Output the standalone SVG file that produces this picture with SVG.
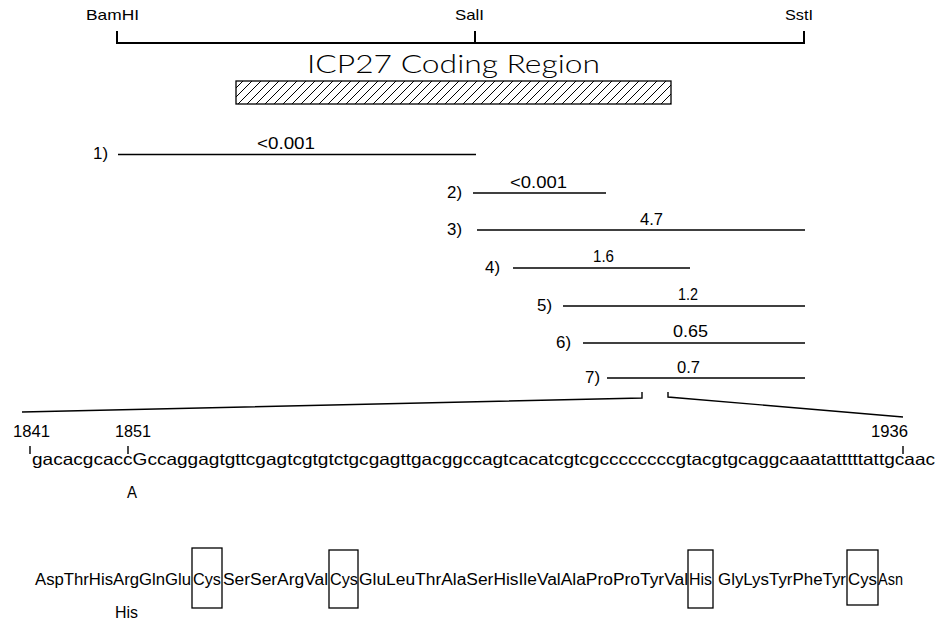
<svg xmlns="http://www.w3.org/2000/svg" width="938" height="621" viewBox="0 0 938 621">
<defs>
<style>
text{font-family:"Liberation Sans",Arial,sans-serif;fill:#000}
.site{font-size:14.5px}
.title{font-family:Lato,"Open Sans","Liberation Sans",sans-serif;font-weight:300;font-size:25px}
.lab{font-size:16px}
.val{font-size:16px}
.num{font-size:16px}
.seq{font-size:16.5px}
.pro{font-size:16px}
.ln{stroke:#000;stroke-width:1.4;fill:none}
.thick{stroke:#000;stroke-width:2;fill:none}
.box{stroke:#000;stroke-width:1.3;fill:none}
</style>
<pattern id="hatch" patternUnits="userSpaceOnUse" width="9" height="9">
<path d="M0,9 L9,0 M-2,2 L2,-2 M7,11 L11,7" stroke="#000" stroke-width="1"/>
</pattern>
</defs>
<rect width="938" height="621" fill="#fff"/>

<g id="map">
<path class="thick" d="M117,31 V43 H804 V31 M475,31 V43"/>
<text class="site" x="86" y="20" textLength="53" lengthAdjust="spacingAndGlyphs">BamHI</text>
<text class="site" x="455" y="20" textLength="29" lengthAdjust="spacingAndGlyphs">SalI</text>
<text class="site" x="785" y="20" textLength="28" lengthAdjust="spacingAndGlyphs">SstI</text>
</g>

<g id="coding-region">
<text class="title" x="307" y="73" textLength="293" lengthAdjust="spacingAndGlyphs">ICP27 Coding Region</text>
<rect x="236" y="81" width="435" height="23" fill="url(#hatch)" stroke="#000" stroke-width="1.3"/>
</g>

<g id="fragments">
<g id="f1"><text class="lab" x="93" y="159" textLength="15" lengthAdjust="spacingAndGlyphs">1)</text><line class="ln" x1="118" y1="154.5" x2="476" y2="154.5"/><text class="val" x="257" y="149" textLength="58" lengthAdjust="spacingAndGlyphs">&lt;0.001</text></g>
<g id="f2"><text class="lab" x="447" y="198" textLength="15" lengthAdjust="spacingAndGlyphs">2)</text><line class="ln" x1="473" y1="193" x2="606" y2="193"/><text class="val" x="510" y="188" textLength="57" lengthAdjust="spacingAndGlyphs">&lt;0.001</text></g>
<g id="f3"><text class="lab" x="447" y="235" textLength="15" lengthAdjust="spacingAndGlyphs">3)</text><line class="ln" x1="477" y1="230" x2="805" y2="230"/><text class="val" x="640" y="225" textLength="23" lengthAdjust="spacingAndGlyphs">4.7</text></g>
<g id="f4"><text class="lab" x="485" y="273" textLength="15" lengthAdjust="spacingAndGlyphs">4)</text><line class="ln" x1="513" y1="268" x2="690" y2="268"/><text class="val" x="593" y="262" textLength="21" lengthAdjust="spacingAndGlyphs">1.6</text></g>
<g id="f5"><text class="lab" x="537" y="311" textLength="15" lengthAdjust="spacingAndGlyphs">5)</text><line class="ln" x1="563" y1="306" x2="805" y2="306"/><text class="val" x="678" y="300" textLength="20" lengthAdjust="spacingAndGlyphs">1.2</text></g>
<g id="f6"><text class="lab" x="556" y="348" textLength="15" lengthAdjust="spacingAndGlyphs">6)</text><line class="ln" x1="583" y1="343" x2="805" y2="343"/><text class="val" x="673" y="337" textLength="35" lengthAdjust="spacingAndGlyphs">0.65</text></g>
<g id="f7"><text class="lab" x="585" y="383" textLength="15" lengthAdjust="spacingAndGlyphs">7)</text><line class="ln" x1="607" y1="378" x2="805" y2="378"/><text class="val" x="677" y="373" textLength="23" lengthAdjust="spacingAndGlyphs">0.7</text></g>
</g>

<g id="connectors">
<polyline class="ln" points="22,412 642,398 642,392"/>
<polyline class="ln" points="668,392 668,397 903,417"/>
</g>

<g id="sequence">
<text class="num" x="13" y="437" textLength="37" lengthAdjust="spacingAndGlyphs">1841</text>
<text class="num" x="115" y="437" textLength="36" lengthAdjust="spacingAndGlyphs">1851</text>
<text class="num" x="871" y="437" textLength="37" lengthAdjust="spacingAndGlyphs">1936</text>
<path class="ln" d="M30,446 V454 M128,446 V454 M903,446 V454"/>
<text class="seq" x="32" y="465" textLength="903" lengthAdjust="spacingAndGlyphs">gacacgcaccGccaggagtgttcgagtcgtgtctgcgagttgacggccagtcacatcgtcgccccccccgtacgtgcaggcaaatatttttattgcaac</text>
<text class="pro" x="127" y="498" font-size="14" textLength="10" lengthAdjust="spacingAndGlyphs">A</text>
</g>

<g id="protein">
<text class="pro" x="35" y="585" textLength="156" lengthAdjust="spacingAndGlyphs">AspThrHisArgGlnGlu</text>
<text class="pro" x="193" y="585" textLength="28" lengthAdjust="spacingAndGlyphs">Cys</text>
<text class="pro" x="223" y="585" textLength="105" lengthAdjust="spacingAndGlyphs">SerSerArgVal</text>
<text class="pro" x="330" y="585" textLength="28" lengthAdjust="spacingAndGlyphs">Cys</text>
<text class="pro" x="359" y="585" textLength="329" lengthAdjust="spacingAndGlyphs">GluLeuThrAlaSerHisIleValAlaProProTyrVal</text>
<text class="pro" x="689" y="585" textLength="23" lengthAdjust="spacingAndGlyphs">His</text>
<text class="pro" x="718" y="585" textLength="128" lengthAdjust="spacingAndGlyphs">GlyLysTyrPheTyr</text>
<text class="pro" x="848" y="585" textLength="29" lengthAdjust="spacingAndGlyphs">Cys</text>
<text class="pro" x="878" y="585" textLength="25" lengthAdjust="spacingAndGlyphs">Asn</text>
<text class="pro" x="115" y="618" font-size="14" textLength="23" lengthAdjust="spacingAndGlyphs">His</text>
<rect class="box" x="192" y="548" width="30" height="60"/>
<rect class="box" x="329" y="550" width="29" height="58"/>
<rect class="box" x="688" y="550" width="25" height="58"/>
<rect class="box" x="847" y="550" width="31" height="55"/>
</g>
</svg>
